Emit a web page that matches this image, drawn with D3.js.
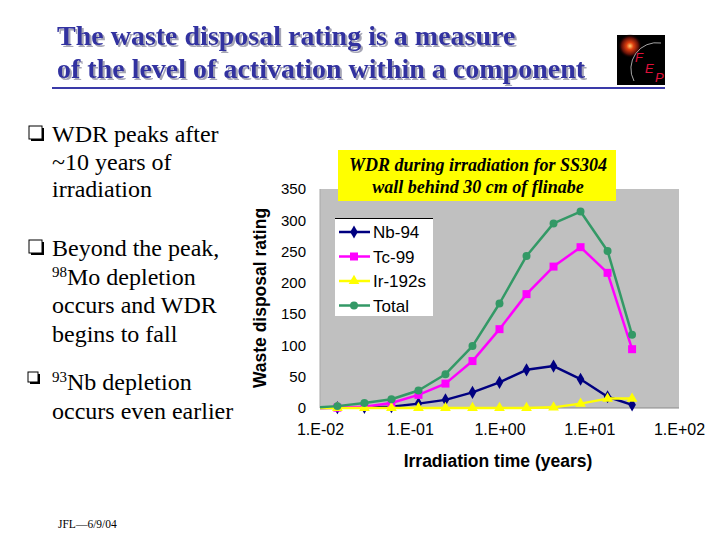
<!DOCTYPE html>
<html>
<head>
<meta charset="utf-8">
<script src="https://cdn.jsdelivr.net/npm/d3@7"></script>
<style>
  html, body { margin: 0; padding: 0; background: #fff; }
  svg { display: block; }
</style>
</head>
<body>
<svg id="c" width="720" height="540"></svg>
<script>
// ---- data ----
const times = [0.0078125, 0.015625, 0.03125, 0.0625, 0.125, 0.25, 0.5, 1, 2, 4, 8, 16, 30];
const nb94  = [0, 0.5, 1, 2, 7, 13, 25, 41, 61, 67, 46, 18, 5];
const tc99  = [0, 0.5, 2, 8, 21, 39, 75, 126, 182, 226, 257, 216, 94];
const ir192 = [0, 0, 0, 0, 0, 0, 0, 0, 0, 1, 7, 15, 15];
const total = [0, 3, 8, 14, 28, 54, 99, 167, 243, 295, 314, 251, 117];
const seriesNames = ["Nb-94", "Tc-99", "Ir-192s", "Total"];
const xTickValues = [0.01, 0.1, 1, 10, 100];
const xTickLabels = ["1.E-02", "1.E-01", "1.E+00", "1.E+01", "1.E+02"];
const yTickValues = [0, 50, 100, 150, 200, 250, 300, 350];

const svg = d3.select("#c");
const defs = svg.append("defs");

// ---- slide title ----
const sh = defs.append("filter").attr("id", "tshadow").attr("x", "-5%").attr("y", "-20%")
  .attr("width", "110%").attr("height", "150%");
sh.append("feDropShadow").attr("dx", 2).attr("dy", 2).attr("stdDeviation", 0.3)
  .attr("flood-color", "#a6a6b6").attr("flood-opacity", 1);
const titleLines = ["The waste disposal rating is a measure", "of the level of activation within a component"];
const tg = svg.append("g").attr("font-family", "'Liberation Serif','Times New Roman',serif")
  .attr("font-weight", "bold").attr("font-size", 28).attr("filter", "url(#tshadow)");
titleLines.forEach((t, i) => {
  tg.append("text").attr("x", 57).attr("y", 45 + i * 33).attr("fill", "#3030a0").text(t);
});
svg.append("line").attr("x1", 52).attr("x2", 665).attr("y1", 88).attr("y2", 88)
  .attr("stroke", "#3a3aa8").attr("stroke-width", 2);

// ---- logo ----
const rg = defs.append("radialGradient").attr("id", "glow");
rg.append("stop").attr("offset", "0%").attr("stop-color", "#ffd070");
rg.append("stop").attr("offset", "30%").attr("stop-color", "#e04010");
rg.append("stop").attr("offset", "70%").attr("stop-color", "#601008");
rg.append("stop").attr("offset", "100%").attr("stop-color", "#000000").attr("stop-opacity", 0);
const logo = svg.append("g");
logo.append("rect").attr("x", 617).attr("y", 35).attr("width", 48).attr("height", 50).attr("fill", "#000");
logo.append("circle").attr("cx", 630).attr("cy", 46).attr("r", 12).attr("fill", "url(#glow)");
logo.append("path").attr("d", "M634,81 A26,26 0 0 1 661,43").attr("fill", "none")
  .attr("stroke", "#cfcfcf").attr("stroke-width", 0.8);
[["F", 635, 62], ["E", 645, 73], ["P", 655, 82]].forEach(([ch, lx, ly]) => {
  logo.append("text").attr("x", lx).attr("y", ly).attr("fill", "#e0103a")
    .attr("font-family", "'Liberation Sans',Arial,sans-serif").attr("font-style", "italic")
    .attr("font-size", 13).text(ch);
});

// ---- bullets ----
const bfont = "'Liberation Serif','Times New Roman',serif";
const bullets = svg.append("g").attr("font-family", bfont).attr("font-size", 24).attr("fill", "#000");
function box(bx, by, s) {
  bullets.append("rect").attr("x", bx + 2).attr("y", by + 2).attr("width", s).attr("height", s).attr("fill", "#000");
  bullets.append("rect").attr("x", bx).attr("y", by).attr("width", s).attr("height", s)
    .attr("fill", "#fff").attr("stroke", "#000").attr("stroke-width", 1);
}
box(29, 126, 13);
box(29, 240, 13);
box(28, 372, 10);
function textLine(ty, parts) {
  const t = bullets.append("text").attr("x", 52).attr("y", ty);
  parts.forEach(p => {
    const s = t.append("tspan").text(p.t);
    if (p.sup) s.attr("font-size", 15).attr("dy", -8);
    if (p.after) s.attr("dy", 8);
  });
}
textLine(142, [{t: "WDR peaks after"}]);
textLine(170, [{t: "~10 years of"}]);
textLine(197, [{t: "irradiation"}]);
textLine(256, [{t: "Beyond the peak,"}]);
textLine(285, [{t: "98", sup: true}, {t: "Mo depletion", after: true}]);
textLine(313, [{t: "occurs and WDR"}]);
textLine(342, [{t: "begins to fall"}]);
textLine(390, [{t: "93", sup: true}, {t: "Nb depletion", after: true}]);
textLine(419, [{t: "occurs even earlier"}]);

svg.append("text").attr("x", 58).attr("y", 528).attr("font-family", bfont)
  .attr("font-size", 11.5).text("JFL—6/9/04");

// ---- chart ----
const pL = 320, pR = 679, pT = 189, pB = 408;
const x = d3.scaleLog().domain([0.01, 100]).range([pL, pR]);
const y = d3.scaleLinear().domain([0, 350]).range([pB, pT]);
const sans = "'Liberation Sans',Arial,sans-serif";

svg.append("rect").attr("x", pL).attr("y", pT).attr("width", pR - pL).attr("height", pB - pT)
  .attr("fill", "#c0c0c0");
svg.append("line").attr("x1", pL).attr("x2", pR).attr("y1", pB).attr("y2", pB)
  .attr("stroke", "#8a8a8a").attr("stroke-width", 1);
svg.append("line").attr("x1", pL).attr("x2", pL).attr("y1", pT).attr("y2", pB)
  .attr("stroke", "#a8a8a8").attr("stroke-width", 1);

const yAxis = d3.axisLeft(y).tickValues(yTickValues).tickSize(0).tickPadding(14);
const ya = svg.append("g").attr("transform", `translate(${pL},0)`).call(yAxis);
ya.select(".domain").remove();
ya.selectAll("text").attr("font-family", sans).attr("font-size", 15).attr("fill", "#000");

const xAxis = d3.axisBottom(x).tickValues(xTickValues).tickSize(0).tickPadding(16)
  .tickFormat((d, i) => xTickLabels[i]);
const xa = svg.append("g").attr("transform", `translate(0,${pB})`).call(xAxis);
xa.select(".domain").remove();
xa.selectAll("text").attr("font-family", sans).attr("font-size", 16).attr("fill", "#000");

svg.append("text").attr("x", 498).attr("y", 467).attr("text-anchor", "middle")
  .attr("font-family", sans).attr("font-weight", "bold").attr("font-size", 17.5).text("Irradiation time (years)");
svg.append("text").attr("transform", `translate(266,298) rotate(-90)`)
  .attr("text-anchor", "middle").attr("font-family", sans).attr("font-weight", "bold")
  .attr("font-size", 17.5).text("Waste disposal rating");

defs.append("clipPath").attr("id", "plotclip").append("rect")
  .attr("x", pL).attr("y", pT - 10).attr("width", pR - pL).attr("height", pB - pT + 20);

const series = [
  {name: seriesNames[0], vals: nb94, color: "#000080", marker: "diamond", size: 50, w: 2.5},
  {name: seriesNames[1], vals: tc99, color: "#ff00ff", marker: "square", size: 64, w: 2.5},
  {name: seriesNames[2], vals: ir192, color: "#ffff00", marker: "triangle", size: 50, w: 2.5},
  {name: seriesNames[3], vals: total, color: "#339966", marker: "circle", size: 50, w: 2.5}
];
const symType = {diamond: d3.symbolDiamond, square: d3.symbolSquare, triangle: d3.symbolTriangle, circle: d3.symbolCircle};

const plot = svg.append("g").attr("clip-path", "url(#plotclip)");
const lineGen = d3.line().x(d => x(d[0])).y(d => y(d[1]));
series.forEach(s => {
  const pts = times.map((t, i) => [t, s.vals[i]]);
  plot.append("path").attr("d", lineGen(pts)).attr("fill", "none")
    .attr("stroke", s.color).attr("stroke-width", s.w).attr("stroke-linejoin", "round");
  plot.selectAll(null).data(pts).join("path")
    .attr("transform", d => `translate(${x(d[0])},${y(d[1])})`)
    .attr("d", d3.symbol().type(symType[s.marker]).size(s.size)())
    .attr("fill", s.color);
});

// chart title box
svg.append("rect").attr("x", 338).attr("y", 150).attr("width", 278).attr("height", 51).attr("fill", "#ffff00");
const ct = svg.append("g").attr("font-family", bfont).attr("font-weight", "bold").attr("font-style", "italic")
  .attr("font-size", 18).attr("text-anchor", "middle").attr("fill", "#000");
ct.append("text").attr("x", 478).attr("y", 171).text("WDR during irradiation for SS304");
ct.append("text").attr("x", 478).attr("y", 193).text("wall behind 30 cm of flinabe");

// legend
const lg = svg.append("g");
lg.append("rect").attr("x", 335).attr("y", 218).attr("width", 98).attr("height", 98).attr("fill", "#fff");
lg.append("line").attr("x1", 335).attr("x2", 433).attr("y1", 218.5).attr("y2", 218.5).attr("stroke", "#000");
series.forEach((s, i) => {
  const cy = 232 + i * 24.5;
  lg.append("line").attr("x1", 339).attr("x2", 370).attr("y1", cy).attr("y2", cy)
    .attr("stroke", s.color).attr("stroke-width", s.w);
  lg.append("path").attr("transform", `translate(354,${cy})`)
    .attr("d", d3.symbol().type(symType[s.marker]).size(s.size)()).attr("fill", s.color);
  lg.append("text").attr("x", 373).attr("y", cy + 6).attr("font-family", sans).attr("font-size", 17)
    .text(s.name);
});
</script>
</body>
</html>
